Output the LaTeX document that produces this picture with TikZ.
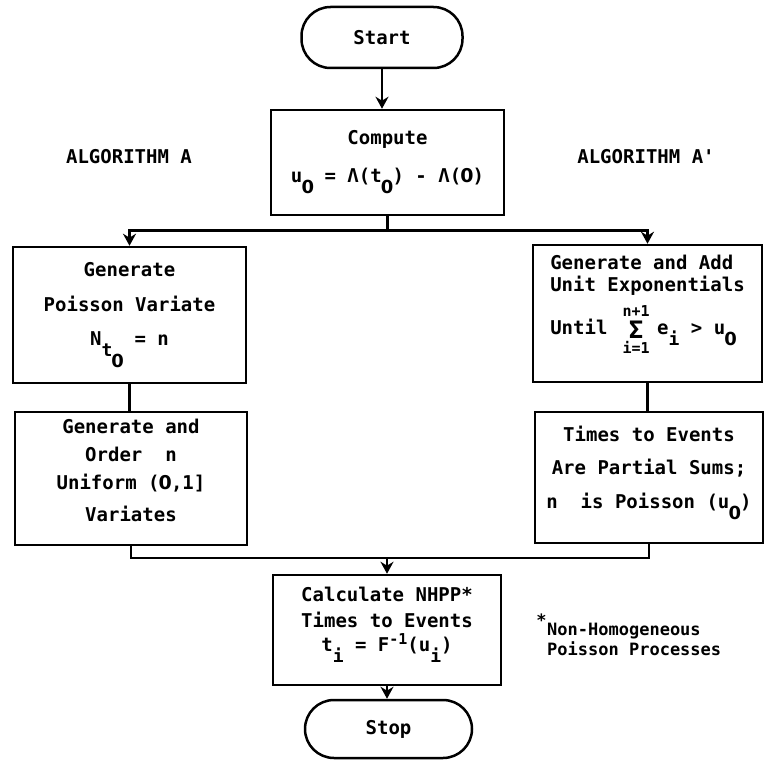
\documentclass[tikz,border=0pt]{standalone}
\usepackage{fontspec}
\newfontfamily\twfont{DejaVu Sans Mono}
\newfontfamily\plainfont{DejaVu Sans}
\usetikzlibrary{arrows.meta}
\newcommand\lowr[1]{\raisebox{-11pt}{\fontsize{18}{18}\selectfont #1}}
\newcommand\upr[1]{\raisebox{7pt}{\fontsize{15}{15}\selectfont #1}}
\newcommand\dn[1]{\rule[-#1]{0pt}{#1}}
\newcommand\z{\makebox[0.6em]{\plainfont 0}}
\newcommand\sumop{\rlap{\hbox to 0.6em{\hss\raisebox{18pt}{\fontsize{15}{15}\selectfont n+1}\hss}}\rlap{\hbox to 0.6em{\hss\raisebox{-19pt}{\fontsize{15}{15}\selectfont i=1}\hss}}\hbox to 0.6em{\hss\raisebox{-4pt}{\fontsize{24}{24}\selectfont Σ}\hss}}
\newcommand\bodyfont{\twfont\bfseries\fontsize{19}{28}\selectfont}
\begin{document}
\begin{tikzpicture}[x=1pt,y=-1pt,
  box/.style={draw, line width=2.5pt, inner sep=0pt, align=center, font=\bodyfont},
  term/.style={box, rounded corners=29pt},
  lbl/.style={font=\bodyfont, inner sep=0pt, anchor=base},
  conn/.style={line width=2.5pt},
  arr/.style={conn, -{Stealth[length=12pt,width=13pt]}}]
\useasboundingbox (0,0) rectangle (766,760);

\node[term, minimum width=161pt, minimum height=61pt] (start) at (382,37.5) {Start};
\node[box, minimum width=233pt, minimum height=105pt] (compute) at (387.5,162.5)
  {Compute\\[10pt]u\lowr{\z}~=~Λ(t\lowr{\z})~-~Λ(\z)};
\node[lbl] (algA) at (129,163) {ALGORITHM A};
\node[lbl] (algB) at (646,163) {ALGORITHM A'};

\node[box, minimum width=233pt, minimum height=136pt] (leftA) at (129.5,315)
  {Generate\\[7pt]Poisson Variate\\[6pt]N\lowr{t\lowr{\z}}~=~n};
\node[box, minimum width=232pt, minimum height=133pt] (leftB) at (131,478.5)
  {Generate and\\Order~~n\\Uniform (\z,1]\\[4pt]Variates\dn{16pt}};

\node[box, align=left, minimum width=229pt, minimum height=137pt] (rightA) at (647.5,313.5)
  {Generate and Add\\[-6pt]Unit Exponentials\\[9pt]Until~~\sumop~\kern4pt e\lowr{i}~>~u\lowr{\z}\dn{37pt}};
\node[box, minimum width=228pt, minimum height=131pt] (rightB) at (649,477.5)
  {Times to Events\\[5pt]Are Partial Sums;\\[6pt]n~~is Poisson (u\lowr{\z})\dn{21pt}};

\node[box, minimum width=228pt, minimum height=110pt] (calc) at (387,630)
  {Calculate NHPP*\\[-2pt]Times to Events\\[-4pt]t\lowr{i}~=~F\upr{-1}(u\lowr{i})\dn{21pt}};
\node[term, minimum width=167pt, minimum height=58pt] (stop) at (388.5,729) {Stop};

\node[font=\twfont\bfseries\fontsize{17}{20}\selectfont, align=left, anchor=north west, inner sep=0pt]
  (note) at (547,613.6) {\llap{\raisebox{9pt}{*}\kern0.5pt}Non-Homogeneous\\Poisson Processes};

\path (compute.south) ++(0,14) coordinate (split);
\path (calc.north) ++(0,-16) coordinate (merge);

\draw[arr] (start.south) -- (start.south |- compute.north);
\draw[conn] (compute.south) -- (split);
\draw[arr] (split) -| (leftA.north);
\draw[arr] (split) -| (rightA.north);
\draw[conn] (leftA.south) -- (leftA.south |- leftB.north);
\draw[conn] (rightA.south) -- (rightA.south |- rightB.north);
\draw[conn] (leftB.south) |- (merge);
\draw[conn] (rightB.south) |- (merge);
\draw[arr] (merge) -- (calc.north);
\draw[arr] (calc.south) -- (calc.south |- stop.north);
\end{tikzpicture}
\end{document}
